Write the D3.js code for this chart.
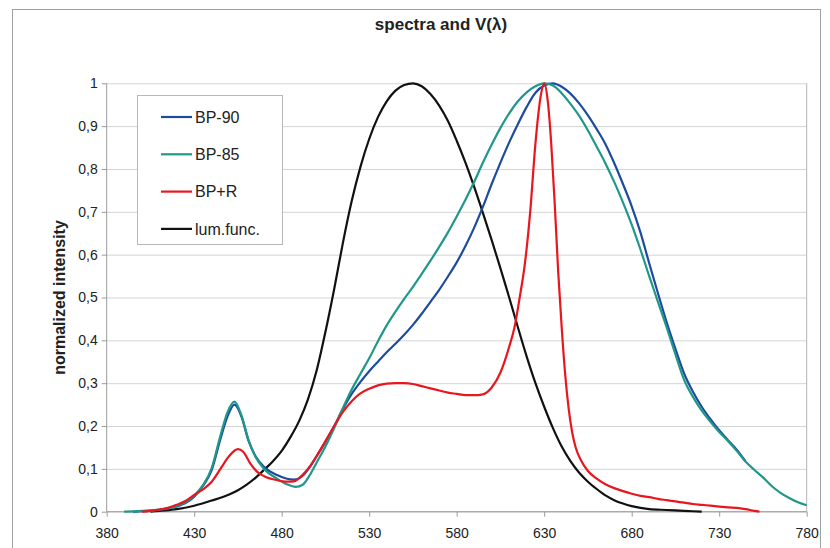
<!DOCTYPE html>
<html>
<head>
<meta charset="utf-8">
<script src="https://cdn.jsdelivr.net/npm/d3@7"></script>
<style>
  body { margin: 0; background: #fff; }
  svg { font-family: "Liberation Sans", Arial, sans-serif; }
  .grid line { stroke: #d4d4d4; }
  .grid path { stroke: none; }
  .axis path, .axis line { stroke: #9a9a9a; }
  .axis text { font-size: 14px; fill: #222; }
</style>
</head>
<body>
<div id="chart"></div>
<script>
// wavelength ticks / intensity ticks
const xTicks = [380, 430, 480, 530, 580, 630, 680, 730, 780];
const yTicks = [0, 0.1, 0.2, 0.3, 0.4, 0.5, 0.6, 0.7, 0.8, 0.9, 1];
const yTickLabels = ['0', '0,1', '0,2', '0,3', '0,4', '0,5', '0,6', '0,7', '0,8', '0,9', '1'];

// [wavelength nm, normalized intensity]
const bp90 = [[395,0],[400,0.001],[410,0.004],[420,0.012],[425,0.020],[430,0.035],[435,0.060],
  [440,0.097],[445,0.170],[449,0.222],[453,0.250],[457,0.222],[461,0.166],[465,0.130],[470,0.104],
  [477,0.086],[483,0.077],[487,0.075],[492,0.084],[496,0.104],[500,0.130],[505,0.163],[510,0.200],
  [515,0.240],[520,0.275],[525,0.303],[530,0.328],[535,0.350],[540,0.372],[545,0.392],[550,0.413],
  [555,0.436],[560,0.462],[565,0.490],[570,0.518],[575,0.549],[580,0.582],[585,0.620],[590,0.663],
  [595,0.712],[600,0.765],[605,0.815],[610,0.862],[615,0.905],[620,0.945],[625,0.978],[630,0.995],
  [635,1.0],[640,0.992],[645,0.976],[650,0.953],[655,0.925],[660,0.893],[665,0.858],[670,0.814],
  [675,0.765],[680,0.713],[685,0.652],[690,0.580],[695,0.510],[700,0.442],[705,0.380],[710,0.322],
  [715,0.280],[720,0.245],[725,0.216],[730,0.190],[735,0.167],[740,0.145],[745,0.118]];

const bp85 = [[390,0],[400,0.002],[410,0.005],[420,0.013],[425,0.022],[430,0.038],[435,0.062],
  [440,0.102],[445,0.178],[449,0.232],[453,0.257],[457,0.225],[461,0.168],[465,0.128],[470,0.099],
  [477,0.078],[483,0.064],[488,0.058],[492,0.063],[496,0.085],[500,0.115],[505,0.152],[510,0.195],
  [515,0.242],[520,0.285],[525,0.322],[530,0.358],[535,0.398],[540,0.435],[545,0.467],[550,0.497],
  [555,0.525],[560,0.555],[565,0.586],[570,0.618],[575,0.652],[580,0.689],[585,0.728],[590,0.770],
  [595,0.815],[600,0.857],[605,0.896],[610,0.930],[615,0.958],[620,0.979],[625,0.993],[630,1.0],
  [635,0.995],[640,0.977],[645,0.952],[650,0.924],[655,0.890],[660,0.852],[665,0.813],[670,0.770],
  [675,0.722],[680,0.670],[685,0.612],[690,0.550],[695,0.490],[700,0.430],[705,0.367],[710,0.307],
  [715,0.268],[720,0.236],[725,0.210],[730,0.186],[735,0.165],[740,0.142],[745,0.117],[750,0.098],
  [755,0.080],[760,0.060],[765,0.044],[770,0.032],[775,0.022],[780,0.015]];

const bpR = [[400,0],[405,0.002],[410,0.005],[415,0.009],[420,0.016],[425,0.025],[430,0.039],
  [435,0.052],[440,0.070],[445,0.100],[450,0.130],[455,0.146],[458,0.140],[462,0.113],[466,0.093],
  [470,0.083],[477,0.074],[483,0.070],[487,0.071],[492,0.086],[496,0.105],[500,0.130],[505,0.165],
  [510,0.200],[515,0.233],[520,0.258],[525,0.276],[530,0.287],[535,0.295],[540,0.299],[545,0.300],
  [550,0.300],[555,0.298],[560,0.293],[565,0.288],[570,0.283],[575,0.278],[580,0.275],[585,0.272],
  [590,0.272],[595,0.274],[600,0.290],[605,0.325],[610,0.385],[613,0.430],[616,0.500],[619,0.580],
  [622,0.700],[625,0.860],[628,0.970],[630,1.0],[632,0.960],[634,0.860],[636,0.720],[638,0.560],
  [640,0.430],[642,0.320],[644,0.240],[646,0.185],[648,0.150],[651,0.120],[655,0.095],[660,0.077],
  [665,0.064],[670,0.055],[675,0.048],[680,0.042],[685,0.037],[690,0.034],[695,0.030],[700,0.027],
  [705,0.024],[710,0.021],[715,0.018],[720,0.016],[725,0.014],[730,0.012],[735,0.010],[740,0.009],
  [745,0.006],[750,0.002],[753,0]];

const lumFunc = [[405,0],[410,0.002],[420,0.006],[430,0.014],[440,0.026],[450,0.040],[455,0.050],
  [460,0.063],[465,0.079],[470,0.098],[475,0.118],[480,0.142],[485,0.174],[490,0.212],[495,0.262],
  [500,0.330],[505,0.420],[510,0.520],[515,0.628],[520,0.725],[525,0.805],[530,0.870],[535,0.921],
  [540,0.958],[545,0.983],[550,0.996],[555,1.0],[560,0.993],[565,0.975],[570,0.948],[575,0.912],
  [580,0.866],[585,0.815],[590,0.758],[595,0.697],[600,0.634],[605,0.568],[610,0.500],[615,0.430],
  [620,0.362],[625,0.300],[630,0.245],[635,0.195],[640,0.152],[645,0.118],[650,0.091],[655,0.070],
  [660,0.053],[665,0.038],[670,0.027],[675,0.019],[680,0.013],[685,0.009],[690,0.006],[700,0.004],
  [710,0.002],[720,0]];

const seriesNames = ['BP-90', 'BP-85', 'BP+R', 'lum.func.'];
const seriesColors = ['#1d4c9e', '#1f9889', '#e8161d', '#111111'];

const W = 830, H = 548;
const svg = d3.select('#chart').append('svg').attr('width', W).attr('height', H);

// outer chart frame
svg.append('rect')
  .attr('x', 12.5).attr('y', 9.5).attr('width', 808).attr('height', 560)
  .attr('fill', '#fff').attr('stroke', '#a0a0a0');

const x = d3.scaleLinear().domain([380, 780]).range([106.7, 806.7]);
const y = d3.scaleLinear().domain([0, 1]).range([511.7, 83.3]);

// horizontal gridlines
svg.append('g').attr('class', 'grid')
  .attr('transform', 'translate(' + x(380) + ',0)')
  .call(d3.axisLeft(y).tickValues(yTicks).tickSize(-(x(780) - x(380))).tickFormat(''));

// right border of plot area
svg.append('line')
  .attr('x1', x(780)).attr('x2', x(780)).attr('y1', y(1)).attr('y2', y(0))
  .attr('stroke', '#b4b4b4');

// y axis
svg.append('g').attr('class', 'axis')
  .attr('transform', 'translate(' + x(380) + ',0)')
  .call(d3.axisLeft(y).tickValues(yTicks).tickSize(5).tickPadding(4)
    .tickFormat((d, i) => yTickLabels[i]))
  .call(g => g.select('.domain').attr('d', 'M0,' + y(0) + 'V' + y(1)));

// x axis
svg.append('g').attr('class', 'axis')
  .attr('transform', 'translate(0,' + y(0) + ')')
  .call(d3.axisBottom(x).tickValues(xTicks).tickSize(5).tickPadding(11).tickFormat(d3.format('d')))
  .call(g => g.select('.domain').attr('d', 'M' + x(380) + ',0H' + x(780)));

// the spectra
const line = d3.line().x(d => x(d[0])).y(d => y(d[1])).curve(d3.curveMonotoneX);
const all = [bp90, bp85, bpR, lumFunc];
const drawOrder = [3, 0, 1, 2];
drawOrder.forEach(i => {
  svg.append('path')
    .datum(all[i])
    .attr('fill', 'none')
    .attr('stroke', seriesColors[i])
    .attr('stroke-width', 2.2)
    .attr('stroke-linejoin', 'round')
    .attr('d', line);
});

// title
svg.append('text')
  .attr('x', 441).attr('y', 30)
  .attr('text-anchor', 'middle')
  .attr('font-size', 17).attr('font-weight', 'bold').attr('fill', '#222')
  .text('spectra and V(\u03bb)');

// y axis title
svg.append('text')
  .attr('transform', 'translate(65,' + y(0.5) + ') rotate(-90)')
  .attr('text-anchor', 'middle')
  .attr('font-size', 16).attr('font-weight', 'bold').attr('fill', '#222')
  .text('normalized intensity');

// legend
const legend = svg.append('g');
legend.append('rect')
  .attr('x', 137.5).attr('y', 95.5).attr('width', 145).attr('height', 149)
  .attr('fill', '#fff').attr('stroke', '#b8b8b8');
seriesNames.forEach((name, i) => {
  const ly = 117 + i * 37.3;
  legend.append('line')
    .attr('x1', 161).attr('x2', 192).attr('y1', ly).attr('y2', ly)
    .attr('stroke', seriesColors[i]).attr('stroke-width', 2.2);
  legend.append('text')
    .attr('x', 195).attr('y', ly)
    .attr('dy', '0.35em')
    .attr('font-size', 16).attr('fill', '#222')
    .text(name);
});
</script>
</body>
</html>
